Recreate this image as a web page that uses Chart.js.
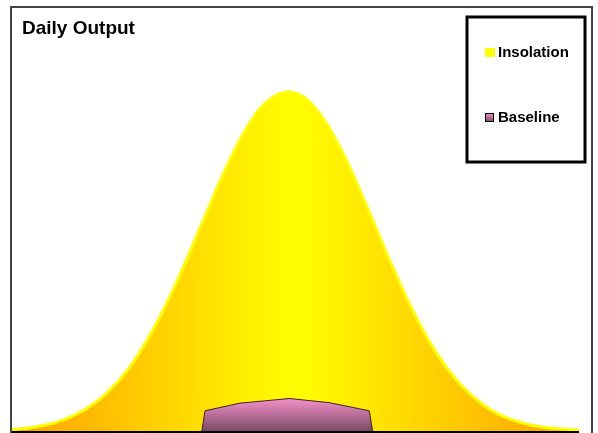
<!DOCTYPE html>
<html>
<head>
<meta charset="utf-8">
<title>Daily Output</title>
<script src="https://cdn.jsdelivr.net/npm/chart.js@4/dist/chart.umd.min.js"></script>
<style>
    body { margin: 0; background: #ffffff; }
    canvas { display: block; }
</style>
</head>
<body>
<canvas id="outputChart" width="598" height="433"></canvas>
<script>
// Chart data (hours of the day)
const chartTitle = 'Daily Output';
const seriesNames = ['Insolation', 'Baseline'];
const insolationHours = [0, 1, 2, 3, 4, 5, 6, 7, 8, 9, 10, 11, 12, 13, 14, 15, 16, 17, 18, 19, 20, 21, 22, 23, 24];
const insolationValues = [0.6, 1.2, 2.5, 5.0, 9.1, 15.4, 24.4, 35.7, 48.6, 61.5, 72.3, 78.8, 79.9, 75.2, 65.8, 53.4, 40.3, 28.2, 18.3, 11.1, 6.2, 3.2, 1.6, 0.8, 0.5];
const baselineHours = [8.03, 8.17, 9.65, 11.75, 13.45, 15.12, 15.27];
const baselineValues = [0, 5.0, 6.8, 7.9, 6.9, 5.0, 0];

const FONT = "'Liberation Sans', Arial, sans-serif";

// Orange at the edges, yellow in the middle
function insolationFill(context) {
    const area = context.chart.chartArea;
    if (!area) return '#ffff00';
    const g = context.chart.ctx.createLinearGradient(area.left, 0, area.right, 0);
    g.addColorStop(0, '#ffa000');
    g.addColorStop(0.5, '#ffff00');
    g.addColorStop(1, '#ffa000');
    return g;
}

// Pink on top fading to dark mauve at the bottom
function baselineFill(context) {
    const chart = context.chart;
    if (!chart.chartArea) return '#e080b8';
    const y = chart.scales.y;
    const g = chart.ctx.createLinearGradient(0, y.getPixelForValue(8), 0, y.getPixelForValue(0));
    g.addColorStop(0, '#f893ca');
    g.addColorStop(1, '#764866');
    return g;
}

// Frame, title, bottom axis line and the boxed legend
const decorations = {
    id: 'decorations',
    afterDatasetsDraw(chart) {
        const ctx = chart.ctx;
        const area = chart.chartArea;
        const zeroY = chart.scales.y.getPixelForValue(0);

        ctx.save();
        // outer frame
        ctx.strokeStyle = '#444444';
        ctx.lineWidth = 2;
        ctx.strokeRect(area.left - 1, area.top - 1, area.right - area.left + 14, 460);

        // axis line
        ctx.strokeStyle = '#000000';
        ctx.lineWidth = 2;
        ctx.beginPath();
        ctx.moveTo(area.left, zeroY);
        ctx.lineTo(area.right, zeroY);
        ctx.stroke();

        // title
        ctx.fillStyle = '#000000';
        ctx.font = 'bold 19px ' + FONT;
        ctx.textBaseline = 'middle';
        ctx.textAlign = 'left';
        ctx.fillText(chartTitle, 22, 29);

        // legend box
        ctx.lineWidth = 3;
        ctx.strokeStyle = '#000000';
        ctx.fillStyle = '#ffffff';
        ctx.fillRect(467, 17, 118, 145);
        ctx.strokeRect(467, 17, 118, 145);

        // legend entries
        ctx.fillStyle = '#ffff00';
        ctx.fillRect(485, 48, 10, 9);
        const sw = ctx.createLinearGradient(0, 113, 0, 122);
        sw.addColorStop(0, '#f893ca');
        sw.addColorStop(1, '#764866');
        ctx.fillStyle = sw;
        ctx.fillRect(485, 113, 9, 9);
        ctx.lineWidth = 1;
        ctx.strokeStyle = '#000000';
        ctx.strokeRect(485.5, 113.5, 8, 8);

        ctx.fillStyle = '#000000';
        ctx.font = 'bold 15px ' + FONT;
        chart.data.datasets.forEach((ds, i) => {
            ctx.fillText(ds.label, 498, i === 0 ? 53 : 118);
        });
        ctx.restore();
    }
};

const ctx = document.getElementById('outputChart').getContext('2d');
new Chart(ctx, {
    type: 'line',
    data: {
        datasets: [{
            label: seriesNames[0],
            data: insolationHours.map((h, i) => ({ x: h, y: insolationValues[i] })),
            borderColor: '#ffff00',
            borderWidth: 3,
            backgroundColor: insolationFill,
            fill: 'origin',
            pointRadius: 0,
            tension: 0.4,
            order: 2
        }, {
            label: seriesNames[1],
            data: baselineHours.map((h, i) => ({ x: h, y: baselineValues[i] })),
            borderColor: '#3a2030',
            borderWidth: 1,
            backgroundColor: baselineFill,
            fill: 'origin',
            pointRadius: 0,
            tension: 0,
            order: 1
        }]
    },
    options: {
        responsive: false,
        devicePixelRatio: 1,
        animation: false,
        layout: {
            padding: { left: 12, right: 19, top: 8, bottom: 1 }
        },
        scales: {
            x: { type: 'linear', min: 0, max: 24, display: false },
            y: { min: 0, max: 100, display: false }
        },
        plugins: {
            legend: { display: false },
            title: { display: false },
            tooltip: { enabled: false }
        }
    },
    plugins: [decorations]
});
</script>
</body>
</html>
